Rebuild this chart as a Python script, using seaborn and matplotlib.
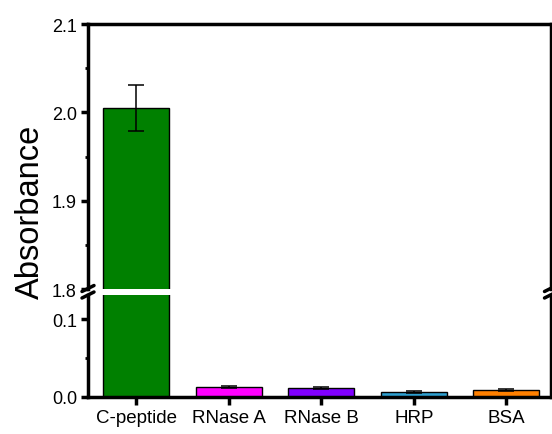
import matplotlib
matplotlib.use("Agg")
import matplotlib.pyplot as plt
from matplotlib.ticker import MultipleLocator
import seaborn as sns
import pandas as pd

# Absorbance of each analyte with standard deviation
samples = ["C-peptide", "RNase A", "RNase B", "HRP", "BSA"]
absorbance = [2.005, 0.0125, 0.0112, 0.0055, 0.0085]
std_dev = [0.026, 0.0012, 0.0010, 0.0010, 0.0008]
bar_colors = ["#008000", "#FF00FF", "#8000FF", "#2E9FCF", "#FF8000"]

sns.set_style("ticks")
plt.rcParams["font.family"] = ["Liberation Sans", "DejaVu Sans"]
plt.rcParams["axes.linewidth"] = 2.5
for key in ("text.color", "axes.labelcolor", "xtick.color", "ytick.color",
            "xtick.labelcolor", "ytick.labelcolor", "axes.edgecolor"):
    plt.rcParams[key] = "black"

df = pd.DataFrame({"sample": samples, "absorbance": absorbance, "sd": std_dev})

fig = plt.figure(figsize=(5.52, 4.35), dpi=100)
left, right = 0.1594, 0.9977
ax_top = fig.add_axes([left, 0.3333, right - left, 0.9425 - 0.3333])
ax_bot = fig.add_axes([left, 0.0862, right - left, 0.3195 - 0.0862])

for ax in (ax_top, ax_bot):
    sns.barplot(data=df, x="sample", y="absorbance", hue="sample",
                palette=bar_colors, legend=False, errorbar=None,
                width=0.71, edgecolor="black", linewidth=1.0, ax=ax,
                saturation=1)
    ax.errorbar(range(len(samples)), df["absorbance"], yerr=df["sd"],
                fmt="none", ecolor="black", elinewidth=1.1, capsize=6,
                capthick=1.1, zorder=5)
    ax.set_xlim(-0.52, 4.48)
    ax.set_xlabel("")
    ax.set_ylabel("")
    for s in ax.spines.values():
        s.set_linewidth(2.5)
        s.set_color("black")
    ax.tick_params(axis="y", which="major", direction="out", length=5,
                   width=2.5, labelsize=13, pad=3, right=False,
                   colors="black")
    ax.tick_params(axis="y", which="minor", direction="out", length=2.5,
                   width=2.0, right=False, colors="black")

# upper panel: 1.8 - 2.1
ax_top.set_ylim(1.8, 2.1)
ax_top.yaxis.set_major_locator(MultipleLocator(0.1))
ax_top.yaxis.set_minor_locator(MultipleLocator(0.05))
ax_top.spines["bottom"].set_visible(False)
ax_top.tick_params(axis="x", which="both", bottom=False, top=False,
                   labelbottom=False)

# lower panel: 0 - 0.131
ax_bot.set_ylim(0.0, 0.131)
ax_bot.yaxis.set_major_locator(MultipleLocator(0.1))
ax_bot.yaxis.set_minor_locator(MultipleLocator(0.05))
ax_bot.spines["top"].set_visible(False)
ax_bot.tick_params(axis="x", which="major", direction="out", length=6,
                   width=2.5, labelsize=13.5, pad=3, top=False,
                   colors="black")

ax_top.yaxis.set_major_formatter(plt.FormatStrFormatter("%.1f"))
ax_bot.yaxis.set_major_formatter(plt.FormatStrFormatter("%.1f"))

fig.text(0.056, 0.513, "Absorbance", rotation=90, fontsize=23.5,
         ha="center", va="center", color="black")

# break marks on both vertical spines
fig_w, fig_h = 552, 435
for xpix in (88, 550.5):
    for ypix in (289.5, 296):
        x0, x1 = (xpix - 6) / fig_w, (xpix + 6) / fig_w
        y0, y1 = 1 - (ypix + 3) / fig_h, 1 - (ypix - 3) / fig_h
        fig.add_artist(plt.Line2D([x0, x1], [y0, y1], color="black",
                                  linewidth=2.5, transform=fig.transFigure,
                                  clip_on=False))

fig.savefig("out.png", dpi=100)
